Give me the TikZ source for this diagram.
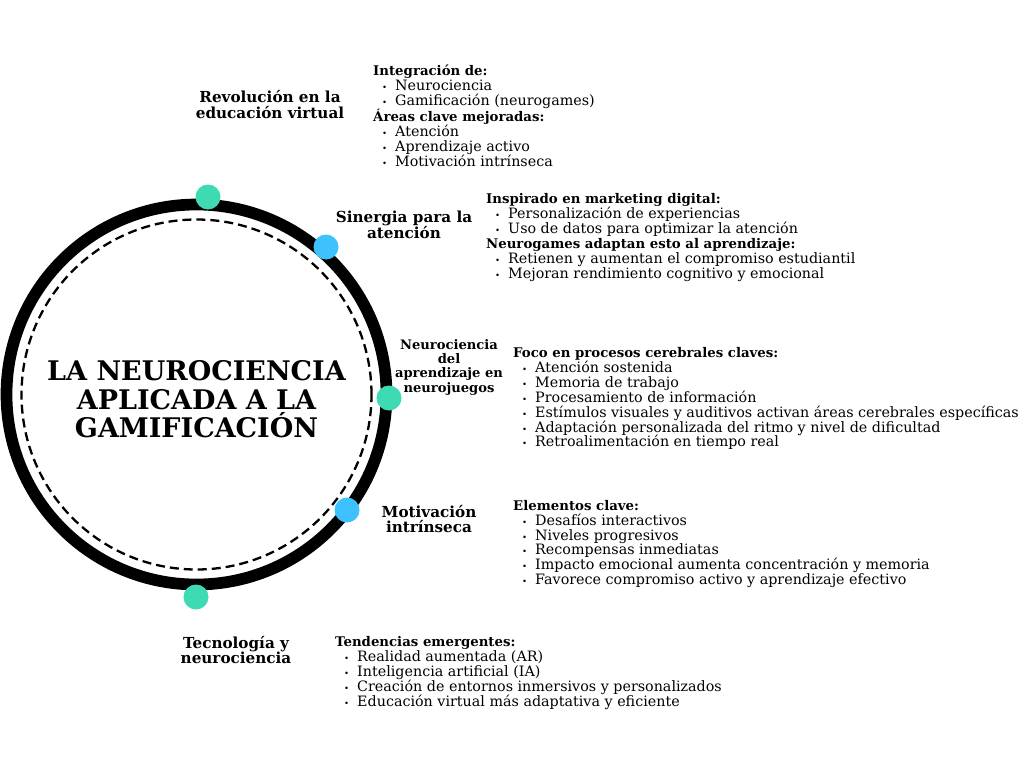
\documentclass[tikz,border=0pt]{standalone}
\usepackage{fontspec}
\setmainfont{DejaVu Serif}
\usepackage{tikz}
\usetikzlibrary{positioning}

\definecolor{dotgreen}{RGB}{62,218,180}
\definecolor{dotblue}{RGB}{62,193,255}
\newcommand{\topstrut}{\rule{0pt}{13pt}}
\newcommand{\hd}[1]{{\fontsize{13.3}{14.9}\selectfont\bfseries #1}}
\newcommand{\itm}[1]{\makebox[22pt][l]{\hspace{9pt}{\fontsize{8.5}{8.5}\selectfont\textbullet}}#1}

\tikzset{
topic/.style={font=\fontsize{15.2}{15.3}\selectfont\bfseries, align=center, anchor=north, inner sep=0pt},
subtopic/.style={topic, font=\fontsize{13.1}{14.3}\selectfont\bfseries},
detail/.style={font=\fontsize{14.3}{14.9}\selectfont, align=left, anchor=north west, inner sep=0pt},
spot/.style={circle, inner sep=0pt, minimum size=25pt}
}

\begin{document}
\begin{tikzpicture}[x=1pt, y=-1pt]
\fill[white] (0,0) rectangle (1024,768);
\useasboundingbox (0,0) rectangle (1024,768);

% ring
\coordinate (hub) at (196.5,394.5);
\draw[line width=11.7pt] (hub) circle[radius=190pt];
\draw[line width=2.3pt, dash pattern=on 9pt off 5pt] (hub) circle[radius=175pt];
\node[font=\fontsize{27}{27.5}\selectfont\bfseries, align=center, anchor=north, inner sep=0pt] (title) at (196.5,360) {\strut LA NEUROCIENCIA\\APLICADA A LA\\GAMIFICACIÓN};

% dots on the ring
\node[spot, fill=dotgreen] (d1) at (208,197) {};
\node[spot, fill=dotblue] (d2) at (326,247) {};
\node[spot, fill=dotgreen] (d3) at (389,398) {};
\node[spot, fill=dotblue] (d4) at (347,510) {};
\node[spot, fill=dotgreen] (d5) at (196,597) {};

% topics
\node[topic] (t1) at (270,89.7) {\topstrut Revolución en la\\educación virtual};
\node[topic] (t2) at (404,209) {\topstrut Sinergia para la\\atención};
\node[subtopic] (t3) at (449,336) {\topstrut Neurociencia\\del\\aprendizaje en\\neurojuegos};
\node[topic] (t4) at (429,504) {\topstrut Motivación\\intrínseca};
\node[topic] (t5) at (236,635) {\topstrut Tecnología y\\neurociencia};

% details
\node[detail] (l1) at (373,62) {\topstrut\hd{Integración de:}\\
\itm{Neurociencia}\\
\itm{Gamificación (neurogames)}\\
\hd{Áreas clave mejoradas:}\\
\itm{Atención}\\
\itm{Aprendizaje activo}\\
\itm{Motivación intrínseca}};
\node[detail] (l2) at (486,190.5) {\topstrut\hd{Inspirado en marketing digital:}\\
\itm{Personalización de experiencias}\\
\itm{Uso de datos para optimizar la atención}\\
\hd{Neurogames adaptan esto al aprendizaje:}\\
\itm{Retienen y aumentan el compromiso estudiantil}\\
\itm{Mejoran rendimiento cognitivo y emocional}};
\node[detail] (l3) at (513,344.3) {\topstrut\hd{Foco en procesos cerebrales claves:}\\
\itm{Atención sostenida}\\
\itm{Memoria de trabajo}\\
\itm{Procesamiento de información}\\
\itm{Estímulos visuales y auditivos activan áreas cerebrales específicas}\\
\itm{Adaptación personalizada del ritmo y nivel de dificultad}\\
\itm{Retroalimentación en tiempo real}};
\node[detail] (l4) at (513,497) {\topstrut\hd{Elementos clave:}\\
\itm{Desafíos interactivos}\\
\itm{Niveles progresivos}\\
\itm{Recompensas inmediatas}\\
\itm{Impacto emocional aumenta concentración y memoria}\\
\itm{Favorece compromiso activo y aprendizaje efectivo}};
\node[detail] (l5) at (335,633.5) {\topstrut\hd{Tendencias emergentes:}\\
\itm{Realidad aumentada (AR)}\\
\itm{Inteligencia artificial (IA)}\\
\itm{Creación de entornos inmersivos y personalizados}\\
\itm{Educación virtual más adaptativa y eficiente}};
\end{tikzpicture}
\end{document}
